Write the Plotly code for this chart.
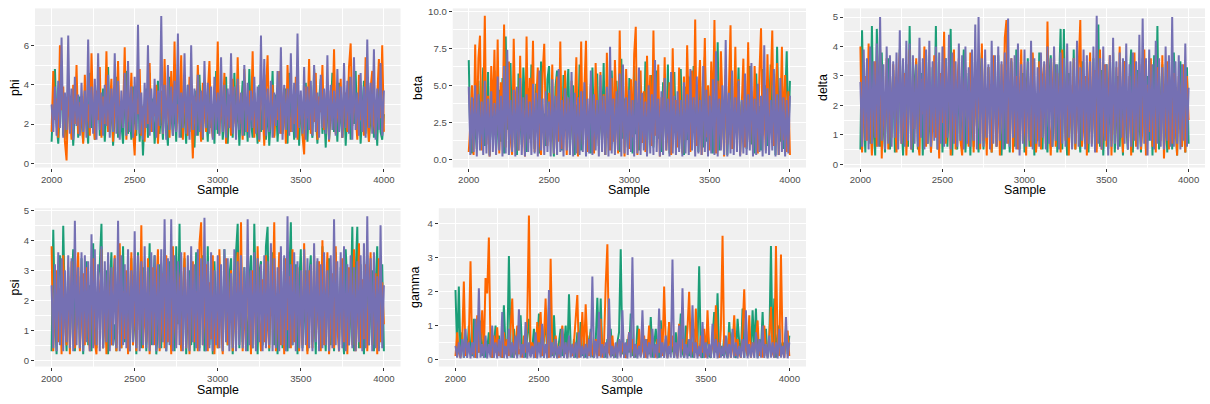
import plotly.graph_objects as go

# ---------------- data (thinned MCMC draws, every 10th sample) ----------------
SAMPLE_START = 2000
SAMPLE_STEP = 10
PARAMS = ["phi", "beta", "delta", "psi", "gamma"]
CHAINS = ["chain1", "chain2", "chain3"]

phi_chain1 = [
    1.1, 3.2, 4.8, 2.0, 1.0, 2.9, 3.9, 1.4, 2.5, 1.2,
    4.2, 1.7, 3.0, 0.9, 2.6, 4.0, 1.3, 3.4, 2.2, 1.1,
    3.7, 2.4, 1.0, 4.6, 1.8, 3.0, 1.2, 2.7, 4.1, 1.4,
    2.3, 3.8, 1.1, 2.9, 4.9, 1.6, 3.2, 0.9, 2.5, 4.4,
    1.3, 3.1, 2.0, 1.0, 3.6, 4.7, 1.5, 2.8, 1.2, 3.9,
    2.2, 1.4, 4.5, 1.1, 3.0, 0.4, 2.6, 3.8, 1.3, 4.6,
    1.7, 3.3, 1.0, 2.4, 4.2, 1.5, 2.9, 1.2, 3.6, 2.0,
    0.9, 4.4, 2.6, 1.4, 3.2, 1.1, 4.8, 2.1, 1.3, 3.5,
    2.5, 1.0, 4.0, 1.6, 3.0, 2.2, 0.8, 3.7, 1.4, 4.5,
    2.0, 1.2, 3.4, 2.7, 1.1, 4.1, 1.8, 3.0, 1.0, 4.7,
    1.5, 2.8, 3.9, 1.2, 2.3, 4.4, 1.0, 3.1, 2.5, 1.3,
    4.6, 1.7, 3.3, 0.9, 2.6, 4.2, 1.4, 3.0, 1.1, 4.8,
    2.1, 1.3, 3.6, 2.4, 1.0, 4.0, 1.6, 2.9, 4.5, 1.2,
    3.1, 0.9, 2.4, 4.7, 1.4, 3.5, 1.1, 2.7, 4.2, 1.5,
    2.2, 3.8, 1.0, 4.6, 1.8, 3.0, 1.2, 2.5, 4.4, 0.9,
    3.3, 1.4, 2.8, 4.1, 1.1, 3.6, 2.0, 1.3, 4.8, 2.4,
    1.0, 3.2, 4.3, 1.5, 2.7, 0.8, 3.9, 1.2, 2.5, 4.6,
    1.6, 3.0, 1.1, 4.1, 2.3, 1.3, 3.7, 0.9, 2.8, 4.4,
    1.2, 3.4, 2.0, 4.7, 1.4, 3.1, 1.0, 2.6, 4.2, 1.5,
    3.8, 1.1, 2.4, 4.5, 1.3, 3.0, 0.9, 4.0, 1.6, 1.2,
    2.5,
]
phi_chain2 = [
    1.6, 4.7, 2.2, 3.3, 1.3, 6.0, 2.7, 3.9, 1.1, 0.15,
    3.6, 2.4, 1.2, 4.0, 2.0, 5.0, 1.5, 3.1, 2.6, 1.0,
    4.5, 2.1, 3.0, 1.4, 5.6, 2.5, 1.2, 3.7, 2.2, 4.9,
    1.3, 3.4, 2.0, 5.7, 1.6, 2.8, 4.3, 1.1, 3.2, 2.4,
    5.2, 1.5, 3.0, 2.3, 5.9, 1.2, 3.8, 2.1, 4.6, 1.7,
    0.4, 3.3, 2.5, 4.8, 1.4, 2.9, 1.1, 3.6, 2.0, 5.1,
    1.6, 3.1, 2.4, 4.0, 1.0, 2.7, 3.7, 1.5, 5.3, 2.2,
    3.5, 1.3, 4.7, 2.0, 6.2, 1.7, 3.0, 2.6, 5.5, 1.2,
    3.8, 2.3, 1.4, 4.4, 2.8, 0.25, 3.4, 1.9, 5.0, 2.5,
    1.1, 4.1, 2.7, 1.6, 3.6, 5.2, 2.1, 1.3, 3.9, 2.4,
    6.2, 1.5, 3.2, 2.2, 4.6, 1.0, 2.9, 3.5, 1.4, 4.3,
    2.5, 1.8, 5.4, 2.0, 3.3, 1.2, 4.8, 2.6, 1.6, 3.7,
    2.2, 5.7, 1.3, 3.0, 2.4, 1.1, 4.2, 2.8, 0.9, 3.6,
    5.5, 1.7, 2.6, 4.0, 1.3, 3.1, 2.2, 4.7, 1.5, 2.9,
    3.8, 1.0, 5.0, 2.4, 1.6, 3.5, 2.0, 4.4, 1.2, 3.2,
    2.7, 1.4, 0.45, 3.9, 2.3, 5.3, 1.5, 3.0, 2.1, 4.6,
    1.2, 3.4, 2.6, 5.0, 1.7, 2.9, 4.1, 1.1, 3.7, 2.3,
    5.8, 1.5, 3.2, 2.0, 4.3, 1.3, 2.8, 3.6, 1.6, 4.9,
    6.1, 1.9, 3.3, 2.5, 1.2, 4.5, 2.2, 3.0, 1.4, 5.4,
    2.6, 1.1, 3.8, 4.7, 2.0, 1.5, 3.4, 5.3, 2.3, 6.0,
    1.6,
]
phi_chain3 = [
    3.0, 1.6, 3.9, 1.4, 4.2, 1.8, 6.4, 1.3, 3.6, 1.7,
    6.5, 1.5, 3.8, 1.2, 4.4, 1.9, 3.5, 1.4, 4.1, 1.6,
    3.7, 1.3, 6.3, 1.8, 3.9, 1.5, 4.3, 1.2, 5.6, 1.7,
    3.6, 1.4, 4.0, 1.9, 4.5, 1.3, 3.8, 1.6, 5.6, 1.5,
    4.2, 1.2, 3.7, 1.8, 4.6, 1.4, 5.2, 1.6, 3.9, 1.3,
    4.4, 1.7, 7.05, 1.5, 3.6, 1.2, 4.1, 1.8, 6.0, 1.4,
    3.8, 1.6, 4.3, 1.3, 3.7, 1.9, 7.5, 1.5, 4.0, 1.2,
    5.0, 1.7, 3.9, 1.4, 4.2, 1.6, 6.6, 1.3, 3.6, 1.8,
    5.6, 1.5, 4.0, 1.2, 6.0, 1.7, 3.8, 1.4, 4.5, 1.6,
    3.7, 1.3, 5.2, 1.8, 4.1, 1.5, 3.9, 1.2, 4.4, 1.7,
    3.6, 1.4, 5.4, 1.6, 4.0, 1.3, 3.8, 1.8, 5.6, 1.5,
    3.9, 1.2, 4.3, 1.7, 3.6, 1.4, 5.0, 1.6, 4.1, 1.3,
    3.7, 1.8, 4.4, 1.5, 3.9, 1.2, 6.5, 1.7, 5.3, 1.4,
    3.8, 1.6, 4.2, 1.3, 3.6, 1.9, 4.7, 1.5, 5.9, 1.2,
    4.0, 1.7, 3.8, 1.4, 5.6, 1.6, 4.1, 1.3, 6.6, 1.8,
    3.7, 1.5, 4.9, 1.2, 3.9, 1.7, 4.2, 1.4, 5.0, 1.6,
    3.6, 1.3, 4.5, 1.8, 3.8, 1.5, 5.5, 1.2, 4.0, 1.7,
    3.7, 1.4, 4.8, 1.6, 3.9, 1.3, 5.1, 1.8, 4.2, 1.5,
    4.4, 1.2, 5.4, 1.7, 3.6, 1.4, 4.6, 1.6, 3.9, 1.3,
    6.3, 1.8, 4.1, 1.5, 5.8, 1.2, 3.8, 1.7, 5.1, 1.4,
    3.7,
]

beta_chain1 = [
    6.7, 1.3, 0.4, 4.1, 2.2, 0.7, 5.3, 1.6, 3.5, 6.2,
    0.9, 2.8, 5.9, 0.3, 3.9, 1.5, 6.0, 0.6, 2.5, 4.7,
    1.2, 5.5, 0.4, 8.3, 2.0, 3.3, 6.5, 0.8, 4.4, 1.7,
    0.3, 5.8, 2.9, 1.0, 6.2, 3.6, 0.5, 4.8, 1.4, 6.4,
    2.6, 0.7, 5.1, 3.8, 0.4, 6.6, 1.8, 3.1, 0.9, 5.4,
    6.3, 1.2, 2.8, 0.2, 4.9, 6.0, 1.5, 3.4, 0.6, 5.7,
    1.9, 4.2, 6.1, 0.8, 2.7, 5.0, 0.3, 3.7, 1.3, 6.4,
    0.6, 4.6, 2.3, 5.6, 1.1, 3.2, 0.4, 6.2, 2.0, 4.0,
    5.8, 0.9, 3.5, 1.6, 6.5, 0.3, 4.7, 2.4, 0.7, 6.0,
    3.1, 1.0, 5.3, 2.6, 0.5, 6.8, 1.4, 4.1, 3.0, 0.8,
    5.5, 2.2, 0.4, 6.3, 1.7, 3.8, 0.6, 5.0, 2.9, 1.2,
    6.6, 0.3, 4.3, 1.9, 5.7, 0.8, 3.5, 6.0, 1.4, 2.7,
    0.5, 5.2, 3.0, 1.1, 6.4, 0.4, 4.6, 2.3, 5.9, 1.6,
    3.4, 0.7, 6.1, 2.0, 0.3, 4.9, 1.3, 5.6, 3.2, 0.9,
    6.3, 1.5, 3.7, 0.5, 5.4, 2.5, 0.8, 6.9, 1.2, 4.4,
    2.0, 6.0, 0.4, 3.6, 1.7, 7.9, 0.6, 4.8, 2.9, 1.1,
    5.7, 0.3, 3.3, 6.6, 1.5, 0.8, 4.5, 2.6, 6.2, 0.5,
    3.9, 1.8, 5.5, 0.7, 2.4, 6.3, 1.0, 4.2, 0.4, 5.8,
    1.3, 3.6, 0.6, 6.1, 2.2, 5.0, 0.9, 3.0, 6.4, 1.6,
    4.7, 0.3, 7.6, 2.5, 1.2, 5.3, 0.7, 3.8, 7.3, 1.4,
    5.3,
]
beta_chain2 = [
    0.5, 2.4, 5.0, 0.3, 7.75, 1.6, 6.8, 8.35, 0.6, 3.2,
    9.7, 1.0, 4.3, 0.2, 6.3, 2.9, 7.4, 1.3, 8.1, 0.4,
    5.2, 2.0, 9.1, 0.8, 3.6, 6.6, 1.5, 0.3, 8.15, 2.5,
    4.8, 0.6, 7.0, 1.9, 3.3, 0.2, 8.3, 1.1, 5.5, 2.7,
    8.0, 0.5, 3.9, 6.2, 1.4, 0.3, 5.8, 7.8, 2.2, 0.9,
    4.5, 1.7, 6.4, 0.4, 3.0, 5.6, 1.2, 7.95, 0.7, 2.8,
    6.0, 0.3, 4.1, 1.5, 5.3, 0.8, 3.4, 6.9, 0.2, 2.3,
    7.95, 1.0, 4.7, 8.0, 0.5, 2.6, 5.1, 1.3, 0.4, 6.5,
    3.1, 0.9, 5.9, 1.6, 4.4, 0.3, 7.2, 2.0, 0.6, 5.5,
    1.2, 6.7, 3.5, 0.4, 8.7, 1.8, 4.9, 0.2, 6.1, 2.7,
    0.7, 5.4, 1.5, 7.1, 8.95, 0.3, 3.8, 6.0, 1.1, 4.6,
    0.5, 7.0, 2.4, 5.7, 0.9, 8.7, 1.6, 3.3, 6.4, 0.2,
    4.2, 1.4, 6.9, 0.6, 2.9, 5.2, 0.3, 7.5, 1.8, 4.0,
    0.8, 6.2, 2.6, 0.4, 5.6, 1.3, 7.7, 3.1, 0.5, 6.0,
    2.1, 9.45, 0.9, 4.5, 6.7, 0.3, 3.6, 8.2, 1.5, 5.0,
    0.6, 6.6, 2.8, 9.4, 0.4, 5.3, 1.7, 7.3, 3.9, 0.2,
    6.1, 1.0, 4.8, 9.05, 0.7, 2.5, 7.6, 1.4, 5.4, 0.3,
    3.7, 6.8, 0.8, 2.2, 7.9, 1.2, 4.6, 0.5, 6.3, 2.9,
    0.4, 5.8, 8.85, 1.6, 3.4, 0.6, 7.1, 2.0, 5.0, 8.7,
    0.9, 4.1, 6.5, 0.3, 3.0, 7.6, 1.3, 5.7, 0.5, 4.6,
    0.3,
]
beta_chain3 = [
    4.9, 0.3, 4.2, 0.5, 5.0, 0.2, 4.4, 0.6, 3.9, 0.3,
    5.3, 0.4, 4.1, 0.2, 4.6, 0.5, 3.8, 0.3, 5.6, 0.6,
    4.3, 0.2, 6.3, 0.4, 7.4, 0.3, 4.0, 0.5, 4.7, 0.2,
    4.9, 0.6, 5.5, 0.3, 4.2, 0.2, 4.4, 0.5, 3.9, 0.3,
    5.1, 0.4, 4.5, 0.2, 6.0, 0.6, 4.1, 0.3, 4.6, 0.5,
    3.9, 0.2, 5.4, 0.4, 4.3, 0.3, 6.1, 0.5, 4.0, 0.2,
    4.8, 0.6, 4.2, 0.3, 5.9, 0.2, 4.5, 0.4, 4.2, 0.3,
    4.6, 0.5, 5.2, 0.2, 4.1, 0.4, 6.0, 0.3, 4.4, 0.6,
    4.0, 0.2, 5.7, 0.5, 4.3, 0.3, 4.9, 0.2, 7.6, 0.4,
    4.1, 0.3, 4.6, 0.6, 5.8, 0.2, 6.4, 0.4, 4.2, 0.3,
    4.7, 0.5, 4.0, 0.2, 5.3, 0.4, 6.2, 0.3, 4.5, 0.6,
    3.9, 0.2, 5.0, 0.4, 4.4, 0.3, 6.7, 0.5, 4.1, 0.2,
    4.6, 0.3, 5.5, 0.6, 4.1, 0.2, 5.9, 0.4, 4.3, 0.3,
    4.6, 0.5, 4.0, 0.2, 5.2, 0.4, 4.4, 0.3, 6.1, 0.6,
    4.2, 0.2, 5.6, 0.4, 4.0, 0.3, 6.3, 0.5, 4.7, 0.2,
    4.3, 0.4, 5.4, 0.3, 7.3, 0.2, 4.1, 0.6, 5.0, 0.3,
    8.05, 0.2, 4.5, 0.4, 6.0, 0.3, 4.2, 0.5, 5.3, 0.2,
    4.0, 0.4, 5.8, 0.3, 4.4, 0.6, 6.5, 0.2, 4.1, 0.3,
    5.1, 0.5, 4.3, 0.2, 7.7, 0.4, 4.8, 0.3, 4.0, 0.6,
    6.1, 0.2, 4.4, 0.3, 5.5, 0.5, 4.2, 0.2, 4.0, 0.4,
    4.3,
]

delta_chain1 = [
    0.5, 4.55, 1.7, 0.4, 3.3, 2.1, 0.7, 4.7, 1.2, 0.3,
    4.6, 2.5, 0.6, 3.8, 1.4, 0.4, 2.9, 3.6, 0.5, 1.9,
    3.2, 0.4, 2.3, 0.8, 3.9, 1.5, 0.3, 2.7, 3.4, 0.6,
    4.7, 1.2, 0.4, 2.8, 3.5, 0.5, 1.6, 3.1, 0.3, 2.4,
    3.7, 0.7, 2.0, 0.4, 3.3, 1.1, 4.7, 0.5, 2.6, 3.0,
    0.4, 1.8, 3.6, 0.6, 2.2, 4.6, 0.3, 2.9, 1.4, 0.5,
    3.4, 0.8, 2.5, 3.9, 0.4, 1.7, 3.1, 0.3, 2.3, 0.6,
    3.5, 1.3, 0.4, 2.8, 3.8, 0.5, 2.0, 0.7, 3.3, 1.5,
    0.4, 3.0, 2.4, 0.6, 3.7, 1.1, 0.3, 2.6, 0.5, 3.2,
    1.8, 0.4, 3.5, 2.2, 0.6, 3.9, 1.3, 0.5, 2.7, 3.1,
    0.4, 2.0, 3.6, 0.6, 1.5, 3.3, 0.3, 2.4, 0.8, 3.8,
    2.1, 0.5, 3.2, 1.0, 0.4, 2.9, 3.7, 0.6, 1.7, 3.4,
    0.4, 2.6, 4.6, 0.5, 4.6, 1.4, 0.3, 3.1, 2.2, 0.6,
    3.9, 0.5, 2.5, 1.2, 0.4, 3.5, 2.0, 0.7, 3.0, 0.4,
    2.7, 1.1, 3.6, 0.5, 2.1, 4.75, 0.6, 3.2, 0.3, 1.9,
    3.4, 0.5, 2.6, 0.8, 3.8, 0.4, 1.6, 3.0, 0.6, 2.3,
    0.3, 3.5, 1.3, 0.5, 2.8, 3.9, 0.4, 2.0, 0.7, 3.2,
    1.5, 0.4, 3.6, 2.4, 0.5, 3.0, 0.8, 2.6, 0.3, 3.7,
    1.2, 4.7, 0.5, 2.2, 3.4, 0.6, 1.8, 0.4, 3.1, 2.5,
    0.5, 3.8, 1.4, 0.3, 2.7, 3.5, 0.6, 2.1, 0.4, 3.3,
    0.7,
]
delta_chain2 = [
    4.0, 0.4, 2.2, 3.0, 0.8, 4.1, 1.5, 0.3, 2.6, 3.5,
    0.6, 1.9, 3.9, 0.2, 2.4, 1.1, 3.6, 0.5, 2.9, 0.9,
    3.4, 1.6, 0.4, 2.8, 3.8, 0.7, 1.3, 3.1, 0.3, 2.0,
    3.9, 0.5, 2.5, 1.2, 3.6, 0.8, 0.3, 2.9, 1.7, 4.0,
    0.6, 2.3, 3.3, 0.4, 1.5, 3.7, 0.9, 2.6, 0.2, 3.1,
    1.4, 4.5, 0.7, 2.1, 3.4, 0.3, 1.8, 3.9, 0.5, 2.7,
    3.6, 0.8, 0.3, 2.4, 3.2, 1.1, 0.6, 3.8, 2.0, 0.4,
    2.9, 1.3, 3.5, 0.5, 4.1, 0.8, 2.2, 0.3, 3.3, 1.6,
    0.4, 3.7, 1.9, 0.6, 2.8, 0.3, 3.4, 1.2, 4.3, 4.9,
    0.7, 2.5, 3.6, 0.4, 1.7, 3.0, 0.5, 2.3, 3.9, 0.8,
    2.0, 0.3, 3.2, 1.5, 0.6, 3.8, 2.6, 0.4, 1.1, 3.5,
    0.5, 2.9, 3.4, 0.7, 4.85, 1.3, 0.3, 2.4, 3.7, 0.6,
    3.1, 1.6, 0.4, 3.9, 2.2, 0.8, 3.5, 0.3, 2.7, 1.0,
    3.6, 0.5, 2.0, 3.3, 4.9, 0.6, 1.4, 3.0, 0.3, 2.5,
    3.8, 0.7, 1.8, 3.2, 0.4, 2.6, 3.9, 0.5, 1.2, 3.4,
    0.6, 2.1, 3.7, 0.3, 2.8, 1.0, 3.3, 0.5, 4.0, 1.6,
    0.4, 3.5, 2.3, 0.7, 3.0, 0.3, 1.9, 3.8, 0.6, 2.4,
    3.4, 0.5, 1.3, 3.9, 0.3, 2.7, 1.1, 3.6, 0.6, 2.2,
    0.4, 3.3, 2.5, 0.8, 3.7, 0.2, 1.8, 3.5, 0.5, 2.8,
    0.7, 3.1, 1.5, 0.3, 3.0, 2.2, 0.6, 3.4, 0.4, 3.0,
    1.5,
]
delta_chain3 = [
    2.8, 0.6, 3.9, 0.8, 3.6, 0.5, 4.0, 0.7, 3.5, 0.9,
    4.1, 0.6, 5.0, 0.8, 3.4, 0.5, 4.0, 0.7, 3.7, 0.6,
    3.5, 0.9, 3.8, 0.5, 4.55, 0.7, 3.6, 0.6, 4.2, 0.8,
    4.1, 0.5, 3.7, 0.7, 3.4, 0.6, 4.3, 0.9, 3.6, 0.5,
    3.9, 0.7, 4.2, 0.6, 3.5, 0.8, 4.0, 0.5, 3.8, 0.7,
    4.0, 0.6, 3.6, 0.9, 4.4, 0.5, 3.8, 0.7, 3.5, 0.6,
    4.1, 0.8, 3.7, 0.5, 4.0, 0.7, 3.3, 0.6, 3.9, 0.8,
    4.75, 0.5, 5.0, 0.7, 3.6, 0.6, 3.9, 0.9, 3.4, 0.5,
    4.2, 0.7, 3.7, 0.6, 4.0, 0.8, 3.5, 0.5, 3.8, 0.7,
    4.95, 0.6, 3.6, 0.9, 3.7, 0.5, 4.1, 0.3, 3.4, 0.7,
    3.9, 0.6, 3.5, 0.8, 4.2, 0.5, 3.6, 0.7, 3.3, 0.6,
    3.8, 0.9, 3.5, 0.5, 4.0, 0.7, 3.6, 0.6, 4.0, 0.8,
    3.4, 0.5, 3.8, 0.7, 3.6, 0.6, 4.1, 0.9, 3.5, 0.5,
    3.6, 0.7, 4.2, 0.6, 3.3, 0.8, 3.9, 0.5, 3.7, 0.7,
    3.5, 0.6, 4.0, 0.4, 5.05, 0.7, 3.6, 0.5, 4.0, 0.8,
    3.4, 0.3, 3.7, 0.6, 4.3, 0.7, 3.5, 0.5, 3.8, 0.9,
    3.6, 0.7, 4.1, 0.5, 3.4, 0.6, 3.8, 0.8, 3.5, 0.5,
    4.4, 0.6, 4.95, 0.7, 3.6, 0.3, 3.9, 0.8, 3.4, 0.5,
    4.2, 0.7, 3.6, 0.6, 3.3, 0.5, 4.0, 0.8, 3.7, 0.6,
    5.0, 0.6, 3.5, 0.7, 3.7, 0.5, 3.4, 0.8, 4.1, 0.6,
    2.6,
]

psi_chain1 = [
    0.3, 4.35, 1.4, 0.2, 2.9, 3.5, 0.5, 4.48, 1.7, 0.3,
    3.1, 0.6, 2.2, 3.7, 0.3, 1.3, 2.8, 0.4, 3.4, 0.2,
    1.9, 3.3, 0.5, 2.5, 0.3, 3.9, 1.1, 0.4, 2.7, 3.2,
    4.55, 0.4, 1.8, 3.0, 0.2, 2.4, 3.6, 0.5, 1.2, 0.3,
    3.3, 2.1, 0.4, 3.8, 0.6, 1.5, 2.9, 0.3, 3.4, 0.5,
    2.0, 0.2, 3.6, 1.3, 0.4, 3.1, 2.6, 0.3, 1.7, 3.9,
    0.5, 2.3, 3.5, 0.2, 1.0, 3.2, 0.4, 2.7, 3.7, 0.3,
    1.6, 3.3, 0.5, 2.4, 0.3, 3.8, 1.2, 4.55, 0.4, 2.1,
    3.4, 0.2, 1.8, 3.0, 0.5, 2.6, 0.3, 3.6, 1.4, 0.4,
    2.9, 3.5, 0.3, 1.1, 3.8, 0.5, 2.2, 0.2, 3.3, 1.6,
    0.4, 3.0, 2.5, 0.3, 3.7, 1.2, 0.5, 2.8, 3.4, 0.2,
    1.9, 3.6, 4.55, 0.4, 2.3, 0.6, 3.1, 1.5, 0.3, 2.7,
    3.5, 0.4, 4.55, 1.8, 0.2, 2.9, 3.3, 0.5, 1.3, 3.8,
    4.45, 0.3, 2.4, 3.6, 0.5, 1.7, 0.2, 3.0, 2.2, 0.4,
    3.4, 1.0, 0.3, 2.6, 4.6, 0.5, 1.9, 3.2, 0.2, 2.5,
    3.7, 0.4, 1.4, 3.0, 0.3, 2.7, 3.5, 0.6, 1.8, 0.2,
    3.3, 2.1, 0.4, 3.8, 1.2, 0.3, 2.8, 3.4, 0.5, 1.6,
    0.3, 3.6, 2.3, 0.4, 3.1, 1.1, 0.2, 3.7, 2.5, 0.5,
    1.7, 4.45, 0.3, 2.9, 4.45, 0.4, 3.2, 1.3, 0.2, 2.6,
    3.5, 0.5, 1.9, 3.0, 0.3, 2.4, 3.8, 0.4, 1.5, 3.2,
    0.3,
]
psi_chain2 = [
    3.8, 0.3, 1.9, 3.0, 0.6, 2.4, 0.2, 3.5, 1.3, 0.5,
    2.8, 0.2, 3.3, 1.0, 0.4, 2.5, 3.6, 0.3, 1.6, 2.9,
    0.5, 3.1, 1.2, 0.3, 2.2, 3.4, 0.6, 0.2, 2.7, 1.4,
    3.7, 0.4, 2.0, 0.2, 3.2, 1.1, 0.5, 2.6, 3.5, 0.3,
    1.7, 3.9, 0.4, 2.3, 0.7, 3.0, 0.2, 1.5, 3.6, 0.5,
    2.6, 0.3, 3.3, 1.0, 4.5, 0.4, 2.1, 0.6, 3.4, 0.2,
    1.8, 3.1, 0.5, 2.4, 3.7, 0.3, 1.2, 2.9, 0.4, 3.5,
    0.6, 2.2, 0.2, 3.8, 1.4, 0.5, 3.0, 2.5, 0.3, 1.7,
    3.6, 0.4, 2.7, 0.2, 1.9, 3.3, 0.6, 2.3, 0.3, 3.9,
    4.6, 0.5, 1.5, 3.2, 0.3, 2.6, 0.7, 3.5, 0.2, 2.0,
    0.4, 3.7, 1.3, 0.2, 2.8, 3.4, 0.5, 1.6, 3.0, 0.3,
    2.4, 0.6, 3.6, 1.1, 4.6, 0.3, 2.0, 0.5, 3.3, 1.8,
    0.2, 3.0, 2.5, 0.4, 3.8, 1.4, 0.3, 2.7, 0.6, 3.5,
    1.2, 0.4, 3.2, 2.0, 4.6, 0.3, 1.7, 3.6, 0.5, 2.3,
    0.2, 3.4, 1.0, 2.8, 0.4, 3.7, 0.6, 1.9, 3.1, 0.3,
    2.5, 0.5, 3.9, 1.3, 0.2, 3.0, 2.2, 0.4, 3.5, 0.7,
    1.6, 3.3, 0.3, 4.0, 0.5, 2.1, 3.6, 0.2, 1.4, 2.9,
    0.4, 3.8, 1.1, 0.3, 2.6, 3.4, 0.6, 1.8, 0.2, 3.1,
    2.3, 0.5, 3.7, 0.3, 1.5, 3.9, 0.4, 2.7, 0.7, 3.2,
    0.3, 2.0, 3.6, 0.5, 1.2, 2.9, 0.2, 3.4, 0.6, 2.6,
    1.2,
]
psi_chain3 = [
    2.5, 0.4, 3.2, 0.3, 3.6, 0.5, 3.4, 0.3, 3.0, 0.6,
    3.5, 0.4, 3.4, 0.3, 4.65, 0.5, 3.1, 0.4, 3.6, 0.3,
    3.5, 0.6, 3.3, 0.3, 4.2, 0.4, 3.7, 0.5, 3.2, 0.3,
    3.8, 0.4, 3.3, 0.6, 3.6, 0.3, 3.1, 0.5, 3.4, 0.4,
    4.65, 0.3, 3.5, 0.5, 3.2, 0.4, 3.7, 0.3, 3.0, 0.6,
    4.3, 0.4, 3.5, 0.3, 3.3, 0.5, 3.8, 0.4, 3.1, 0.3,
    3.6, 0.5, 3.5, 0.3, 3.2, 0.4, 3.7, 0.6, 4.7, 0.3,
    3.4, 0.5, 4.7, 0.3, 3.5, 0.4, 3.3, 0.5, 3.6, 0.3,
    3.1, 0.4, 3.5, 0.3, 3.8, 0.6, 3.2, 0.4, 3.7, 0.3,
    3.4, 0.5, 4.75, 0.3, 3.3, 0.4, 3.6, 0.3, 3.0, 0.5,
    3.5, 0.4, 3.2, 0.3, 3.7, 0.6, 3.4, 0.3, 2.9, 0.4,
    3.7, 0.3, 3.3, 0.5, 3.5, 0.4, 3.1, 0.3, 4.7, 0.5,
    3.0, 0.4, 3.6, 0.3, 3.4, 0.6, 3.2, 0.3, 3.5, 0.4,
    3.3, 0.5, 3.9, 0.3, 3.4, 0.4, 3.1, 0.3, 3.8, 0.5,
    3.5, 0.3, 4.8, 0.4, 3.2, 0.5, 3.6, 0.3, 3.3, 0.4,
    3.0, 0.3, 3.7, 0.5, 3.4, 0.4, 3.2, 0.3, 3.9, 0.6,
    3.4, 0.3, 3.2, 0.4, 3.6, 0.5, 3.0, 0.3, 3.5, 0.4,
    4.7, 0.5, 3.3, 0.3, 3.6, 0.4, 3.8, 0.3, 3.2, 0.5,
    3.5, 0.4, 3.1, 0.3, 3.3, 0.6, 3.5, 0.3, 3.9, 0.4,
    4.8, 0.5, 3.4, 0.3, 3.6, 0.4, 2.8, 0.3, 4.5, 0.4,
    2.5,
]

gamma_chain1 = [
    2.05, 0.2, 2.15, 0.1, 0.8, 0.05, 0.4, 0.15, 1.0, 0.3,
    0.1, 1.2, 0.05, 0.5, 0.2, 1.15, 0.1, 0.6, 0.05, 0.3,
    0.8, 0.15, 0.05, 0.4, 1.0, 0.1, 0.7, 0.2, 0.05, 1.6,
    0.3, 0.1, 3.05, 0.5, 0.05, 0.9, 0.2, 0.1, 0.6, 1.3,
    0.15, 0.4, 0.05, 0.7, 1.2, 0.1, 0.3, 0.9, 0.05, 0.5,
    1.35, 0.2, 0.1, 0.6, 1.25, 0.05, 1.6, 0.3, 0.1, 1.3,
    0.2, 0.05, 0.5, 0.9, 0.1, 0.3, 1.0, 0.05, 1.92, 0.4,
    0.15, 0.6, 0.05, 0.8, 0.2, 1.1, 0.1, 0.4, 0.05, 0.7,
    0.3, 0.9, 0.1, 0.05, 0.5, 1.82, 0.2, 1.8, 0.1, 0.4,
    0.05, 0.6, 0.2, 0.9, 0.1, 0.3, 0.05, 0.5, 0.8, 3.25,
    0.15, 0.4, 0.05, 0.6, 0.2, 1.35, 0.1, 0.3, 0.05, 1.0,
    0.5, 0.1, 0.8, 0.05, 0.3, 0.6, 0.15, 1.25, 0.05, 0.4,
    0.9, 0.2, 0.05, 1.15, 0.3, 0.1, 0.6, 0.05, 1.1, 0.2,
    0.4, 0.05, 0.8, 0.1, 0.5, 1.35, 0.2, 0.05, 1.0, 0.3,
    0.1, 0.6, 0.05, 0.9, 0.2, 0.4, 2.75, 0.1, 0.05, 0.7,
    0.3, 0.9, 0.1, 0.05, 0.6, 1.4, 0.2, 1.95, 0.05, 0.4,
    0.1, 0.7, 0.2, 0.05, 1.1, 0.3, 0.8, 0.1, 0.05, 1.2,
    0.5, 0.15, 1.5, 0.05, 0.9, 0.2, 0.4, 0.1, 1.45, 0.3,
    1.5, 0.05, 0.6, 0.2, 1.4, 0.1, 0.9, 0.05, 0.4, 3.35,
    0.2, 1.8, 0.05, 0.7, 1.0, 0.1, 0.5, 0.3, 0.9, 0.15,
    0.7,
]
gamma_chain2 = [
    0.1, 0.8, 0.2, 0.05, 0.5, 2.3, 0.1, 0.3, 0.6, 2.9,
    0.15, 0.4, 0.05, 1.3, 0.2, 0.6, 1.45, 0.1, 2.4, 1.95,
    3.6, 0.3, 0.05, 0.7, 0.2, 0.95, 0.1, 0.5, 0.05, 0.8,
    0.25, 0.6, 0.1, 0.9, 1.8, 0.05, 0.4, 1.0, 0.15, 0.3,
    0.05, 0.7, 0.2, 1.2, 4.25, 0.1, 0.5, 0.3, 0.05, 1.1,
    0.4, 1.4, 0.1, 0.6, 1.8, 0.2, 0.05, 2.97, 0.35, 0.1,
    0.7, 0.2, 0.05, 0.45, 1.0, 0.15, 0.3, 0.05, 0.6, 0.2,
    0.1, 0.5, 1.2, 1.9, 0.05, 0.3, 1.4, 0.15, 1.63, 0.4,
    0.1, 0.8, 0.2, 0.05, 0.6, 0.3, 0.1, 1.2, 0.05, 0.5,
    2.2, 3.4, 0.2, 0.1, 0.7, 0.05, 0.4, 0.2, 0.6, 0.1,
    0.5, 0.1, 0.05, 0.3, 0.8, 0.2, 0.6, 0.05, 0.4, 0.15,
    0.9, 0.1, 0.3, 0.7, 0.05, 0.2, 1.0, 0.1, 0.5, 0.3,
    0.05, 0.6, 0.2, 0.9, 0.1, 2.15, 0.4, 0.05, 1.1, 0.3,
    0.7, 0.1, 0.4, 0.05, 1.05, 0.2, 0.6, 0.1, 0.3, 0.9,
    2.0, 0.15, 0.5, 0.05, 1.5, 0.3, 0.1, 0.7, 0.2, 0.9,
    0.05, 1.45, 0.3, 0.1, 0.6, 0.2, 1.6, 0.4, 0.05, 0.9,
    3.65, 0.2, 0.5, 0.1, 0.8, 0.05, 0.4, 1.3, 0.1, 0.6,
    0.2, 0.05, 0.9, 2.07, 0.3, 0.1, 1.3, 0.05, 0.5, 0.2,
    0.6, 1.15, 0.1, 0.4, 0.05, 1.0, 0.3, 0.1, 0.7, 1.55,
    0.2, 0.05, 3.35, 0.4, 0.1, 3.1, 0.3, 0.05, 0.6, 0.85,
    0.1,
]
gamma_chain3 = [
    0.4, 0.05, 0.5, 0.03, 0.6, 0.05, 0.9, 0.04, 0.5, 0.03,
    0.5, 0.05, 1.2, 0.03, 2.1, 0.05, 0.45, 0.04, 0.7, 0.03,
    0.45, 0.05, 1.0, 0.04, 0.5, 0.03, 0.6, 0.05, 1.4, 0.04,
    0.4, 0.03, 0.9, 0.05, 0.5, 0.04, 0.7, 0.03, 1.48, 0.05,
    0.45, 0.04, 1.1, 0.03, 0.5, 0.05, 0.4, 0.04, 0.8, 0.03,
    0.5, 0.05, 1.05, 0.04, 0.45, 0.03, 2.05, 0.05, 0.5, 0.04,
    0.6, 0.03, 0.4, 0.05, 0.9, 0.04, 0.5, 0.03, 0.7, 0.05,
    0.45, 0.04, 0.5, 0.03, 0.8, 0.05, 0.4, 0.04, 0.45, 0.03,
    0.6, 0.05, 2.45, 0.04, 0.55, 0.03, 1.4, 0.05, 0.45, 0.04,
    0.5, 0.03, 1.8, 0.05, 0.4, 0.04, 0.5, 0.03, 0.6, 0.05,
    1.45, 0.04, 0.5, 0.03, 0.8, 0.05, 3.02, 0.04, 0.45, 0.03,
    0.4, 0.05, 1.45, 0.04, 0.6, 0.03, 0.5, 0.05, 0.9, 0.04,
    0.45, 0.03, 1.5, 0.05, 0.5, 0.04, 0.7, 0.03, 0.4, 0.05,
    2.95, 0.04, 0.5, 0.03, 1.0, 0.05, 2.1, 0.04, 0.45, 0.03,
    0.6, 0.05, 1.6, 0.04, 0.5, 0.03, 0.4, 0.05, 1.1, 0.04,
    0.5, 0.03, 0.45, 0.05, 1.05, 0.04, 0.6, 0.03, 0.5, 0.05,
    0.4, 0.04, 0.7, 0.03, 0.45, 0.05, 0.9, 0.04, 0.5, 0.03,
    0.4, 0.05, 0.6, 0.04, 1.45, 0.03, 0.45, 0.05, 0.5, 0.04,
    0.8, 0.03, 0.6, 0.05, 1.0, 0.04, 0.45, 0.03, 0.7, 0.05,
    0.5, 0.04, 0.5, 0.03, 0.9, 0.05, 0.4, 0.04, 1.25, 0.03,
    0.5,
]

X_TICKS = [2000, 2500, 3000, 3500, 4000]
Y_TICKS = {
    "phi": [0, 2, 4, 6],
    "beta": [0.0, 2.5, 5.0, 7.5, 10.0],
    "delta": [0, 1, 2, 3, 4, 5],
    "psi": [0, 1, 2, 3, 4, 5],
    "gamma": [0, 1, 2, 3, 4],
}
Y_TICK_LABELS = {
    "phi": ["0", "2", "4", "6"],
    "beta": ["0.0", "2.5", "5.0", "7.5", "10.0"],
    "delta": ["0", "1", "2", "3", "4", "5"],
    "psi": ["0", "1", "2", "3", "4", "5"],
    "gamma": ["0", "1", "2", "3", "4"],
}
SERIES = {
    "phi": [phi_chain1, phi_chain2, phi_chain3],
    "beta": [beta_chain1, beta_chain2, beta_chain3],
    "delta": [delta_chain1, delta_chain2, delta_chain3],
    "psi": [psi_chain1, psi_chain2, psi_chain3],
    "gamma": [gamma_chain1, gamma_chain2, gamma_chain3],
}

# ---------------- styling / layout ----------------
W, H = 1210, 404
CHAIN_COLORS = ["#1B9E77", "#FF6600", "#7570B3"]
PANEL_BG = "#F0F0F0"
FONT = "Liberation Sans, Arial, Helvetica, sans-serif"

# panel boxes in pixels: left, right, top, bottom
BOXES = {
    "phi": (35, 400.5, 4.5, 166),
    "beta": (452.7, 806, 4.5, 166),
    "delta": (844, 1205, 4.5, 166),
    "psi": (35, 400.5, 207.3, 368),
    "gamma": (438.8, 806, 207.3, 368),
}
Y_RANGES = {
    "phi": [-0.215, 7.88],
    "beta": [-0.55, 10.19],
    "delta": [-0.11, 5.295],
    "psi": [-0.207, 5.066],
    "gamma": [-0.2125, 4.466],
}
Y_MINOR = {"phi": 1.0, "beta": 1.25, "delta": 0.5, "psi": 0.5, "gamma": 0.5}
YTITLE_X = {"phi": 15, "beta": 418, "delta": 823, "psi": 15, "gamma": 415.5}
XTITLE_Y = {"phi": 188.7, "beta": 188.7, "delta": 188.7, "psi": 392.0, "gamma": 392.0}

fig = go.Figure()
layout = dict(
    width=W, height=H, autosize=False,
    margin=dict(l=0, r=0, t=0, b=0, pad=0),
    paper_bgcolor="white", plot_bgcolor=PANEL_BG,
    showlegend=False,
    font=dict(family=FONT, size=10, color="#4D4D4D"),
    annotations=[],
)

for k, p in enumerate(PARAMS):
    n = k + 1
    xa = "x" if n == 1 else f"x{n}"
    ya = "y" if n == 1 else f"y{n}"
    for c, vals in enumerate(SERIES[p]):
        xs = [SAMPLE_START + SAMPLE_STEP * i for i in range(len(vals))]
        fig.add_trace(go.Scatter(
            x=xs, y=vals, mode="lines", name=CHAINS[c],
            line=dict(color=CHAIN_COLORS[c], width=2.0, simplify=False),
            xaxis=xa, yaxis=ya, hoverinfo="skip",
        ))
    l, r, t, b = BOXES[p]
    common = dict(
        showline=False, zeroline=False,
        showgrid=True, gridcolor="white", gridwidth=1.1,
        ticks="outside", ticklen=3, tickwidth=1, tickcolor="#333333",
        tickfont=dict(family=FONT, size=9.6, color="#4D4D4D"),
    )
    layout[f"xaxis{n}"] = dict(
        common, domain=[l / W, r / W], anchor=ya,
        range=[1900, 4100], tickmode="array", tickvals=X_TICKS,
        ticktext=[str(v) for v in X_TICKS],
        minor=dict(showgrid=True, gridcolor="white", gridwidth=0.55,
                   tickmode="array", tickvals=[2250, 2750, 3250, 3750], ticks=""),
    )
    ymin, ymax = Y_RANGES[p]
    step = Y_MINOR[p]
    minor_vals = []
    v = step
    while v < ymax:
        if all(abs(v - tv) > 1e-9 for tv in Y_TICKS[p]):
            minor_vals.append(round(v, 4))
        v += step
    layout[f"yaxis{n}"] = dict(
        common, domain=[1 - b / H, 1 - t / H], anchor=xa,
        range=[ymin, ymax], tickmode="array", tickvals=Y_TICKS[p],
        ticktext=Y_TICK_LABELS[p],
        minor=dict(showgrid=True, gridcolor="white", gridwidth=0.55,
                   tickmode="array", tickvals=minor_vals, ticks=""),
    )
    layout["annotations"].append(dict(
        text="Sample", xref="paper", yref="paper",
        x=((l + r) / 2) / W, y=1 - XTITLE_Y[p] / H,
        xanchor="center", yanchor="middle", showarrow=False,
        font=dict(family=FONT, size=12.4, color="black"),
    ))
    layout["annotations"].append(dict(
        text=p, xref="paper", yref="paper",
        x=YTITLE_X[p] / W, y=1 - ((t + b) / 2) / H, textangle=-90,
        xanchor="center", yanchor="middle", showarrow=False,
        font=dict(family=FONT, size=12.4, color="black"),
    ))

fig.update_layout(**layout)
fig.write_html("out.html")
